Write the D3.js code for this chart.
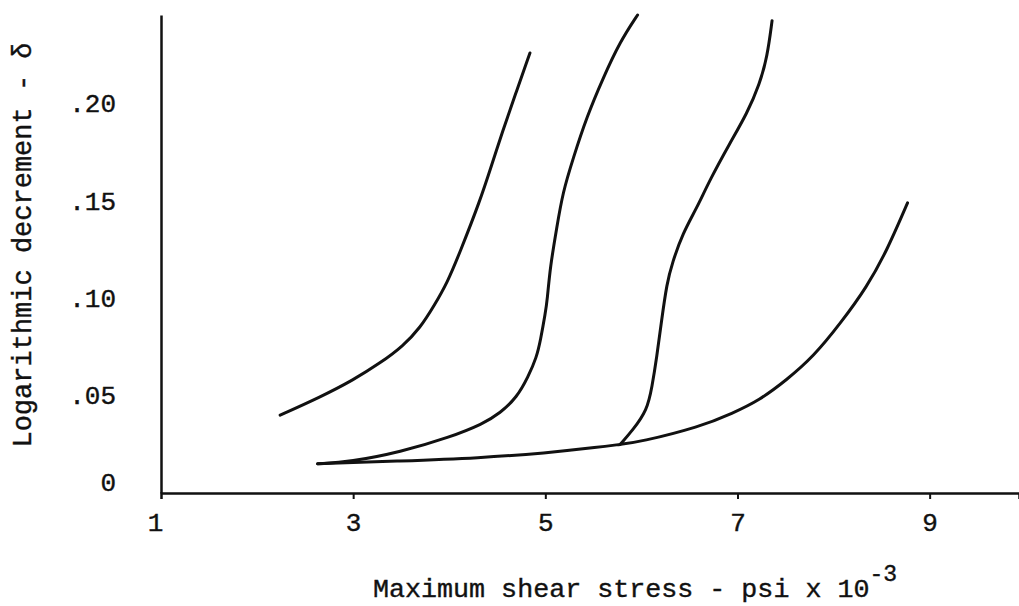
<!DOCTYPE html>
<html>
<head>
<meta charset="utf-8">
<script src="https://cdn.jsdelivr.net/npm/d3@7"></script>
<style>
  body { margin: 0; background: #fff; }
  svg text { font-family: "Liberation Mono", "DejaVu Sans Mono", monospace; fill: #111; stroke: #111; stroke-width: 0.4px; }
</style>
</head>
<body>
<div id="chart"></div>
<script>
// values (x = stress in psi x 10^-3, y = log decrement)
var curveAx = [2.24, 2.655, 3.00, 3.28, 3.52, 3.70, 3.84, 3.98, 4.11, 4.32, 4.445, 4.55, 4.69, 4.84];
var curveAy = [0.040, 0.0492, 0.058, 0.0667, 0.0755, 0.0850, 0.0960, 0.1080, 0.1235, 0.150, 0.169, 0.185, 0.205, 0.226];

var curveBx = [2.63, 2.97, 3.49, 4.01, 4.35, 4.53, 4.705, 4.82, 4.91, 4.95, 5.00, 5.02, 5.05, 5.12, 5.18, 5.29, 5.43, 5.60, 5.78, 5.96];
var curveBy = [0.015, 0.016, 0.021, 0.0287, 0.0355, 0.041, 0.0492, 0.0595, 0.0698, 0.0785, 0.0923, 0.099, 0.116, 0.1365, 0.154, 0.172, 0.193, 0.213, 0.232, 0.2455];

var curveCx = [5.78, 5.91, 6.06, 6.11, 6.16, 6.21, 6.265, 6.32, 6.43, 6.58, 6.71, 6.92, 7.10, 7.23, 7.31, 7.36];
var curveCy = [0.025, 0.0323, 0.0426, 0.0544, 0.0698, 0.0887, 0.1077, 0.118, 0.1334, 0.1467, 0.1606, 0.1796, 0.195, 0.210, 0.224, 0.2426];

var curveDx = [2.63, 3.49, 4.32, 5.0, 5.57, 5.78, 5.98, 6.61, 6.95, 7.23, 7.51, 7.79, 8.07, 8.35, 8.56, 8.77];
var curveDy = [0.015, 0.0164, 0.018, 0.0205, 0.0236, 0.025, 0.0262, 0.034, 0.041, 0.0477, 0.058, 0.070, 0.087, 0.106, 0.125, 0.149];

var xTicks = [1, 3, 5, 7, 9];
var yTicks = [0, 0.05, 0.10, 0.15, 0.20];
var yTickLabels = ["0", ".05", ".10", ".15", ".20"];

var svgWidth = 1019;
var svgHeight = 606;

var margin = { top: 15, right: 0, bottom: 113, left: 161 };
var width = svgWidth - margin.left - margin.right;
var height = svgHeight - margin.top - margin.bottom;

var svg = d3.select("#chart")
  .append("svg")
  .attr("width", svgWidth)
  .attr("height", svgHeight);

var chartGroup = svg.append("g")
  .attr("transform", `translate(${margin.left}, ${margin.top})`);

var xScale = d3.scaleLinear().domain([1, 9.93]).range([0, width]);
var yScale = d3.scaleLinear().domain([0, 0.2455]).range([height, 0]);

// x axis
var bottomAxis = d3.axisBottom(xScale)
  .tickValues(xTicks)
  .tickSize(6)
  .tickPadding(14)
  .tickFormat(d3.format("d"));

var xAxisG = chartGroup.append("g")
  .attr("transform", `translate(0, ${height})`)
  .call(bottomAxis);
xAxisG.select(".domain").attr("stroke", "#111").attr("stroke-width", 2.5);
xAxisG.selectAll(".tick line").attr("stroke", "#111").attr("stroke-width", 2)
  .attr("opacity", d => d === 1 ? 0 : 1);
xAxisG.selectAll(".tick text")
  .style("font-size", "26px")
  .attr("dx", d => d === 1 ? -6 : 0);

// y axis
var leftAxis = d3.axisLeft(yScale)
  .tickValues(yTicks)
  .tickSize(0)
  .tickPadding(45)
  .tickFormat((d, i) => yTickLabels[i]);

var yAxisG = chartGroup.append("g").call(leftAxis);
yAxisG.select(".domain").attr("stroke", "#111").attr("stroke-width", 2.5);
yAxisG.selectAll(".tick text")
  .style("font-size", "26px")
  .attr("dy", (d, i) => d === 0 ? "-0.1em" : "0.32em");

// curves
var series = [
  [curveAx, curveAy],
  [curveBx, curveBy],
  [curveCx, curveCy],
  [curveDx, curveDy]
];

var line = d3.line()
  .x(d => xScale(d[0]))
  .y(d => yScale(d[1]))
  .curve(d3.curveBasis);

series.forEach(function(s) {
  var pts = s[0].map((x, i) => [x, s[1][i]]);
  chartGroup.append("path")
    .datum(pts)
    .attr("d", line)
    .attr("fill", "none")
    .attr("stroke", "#111")
    .attr("stroke-width", 3)
    .attr("stroke-linecap", "round");
});

// axis titles
svg.append("text")
  .attr("transform", "translate(31, 245) rotate(-90)")
  .attr("text-anchor", "middle")
  .style("font-size", "27px")
  .text("Logarithmic decrement - δ");

var xTitle = svg.append("text")
  .attr("x", 373)
  .attr("y", 597)
  .style("font-size", "26.7px");
xTitle.append("tspan").text("Maximum shear stress - psi x 10");
xTitle.append("tspan")
  .attr("dy", -16)
  .style("font-size", "23px")
  .text("-3");
</script>
</body>
</html>
